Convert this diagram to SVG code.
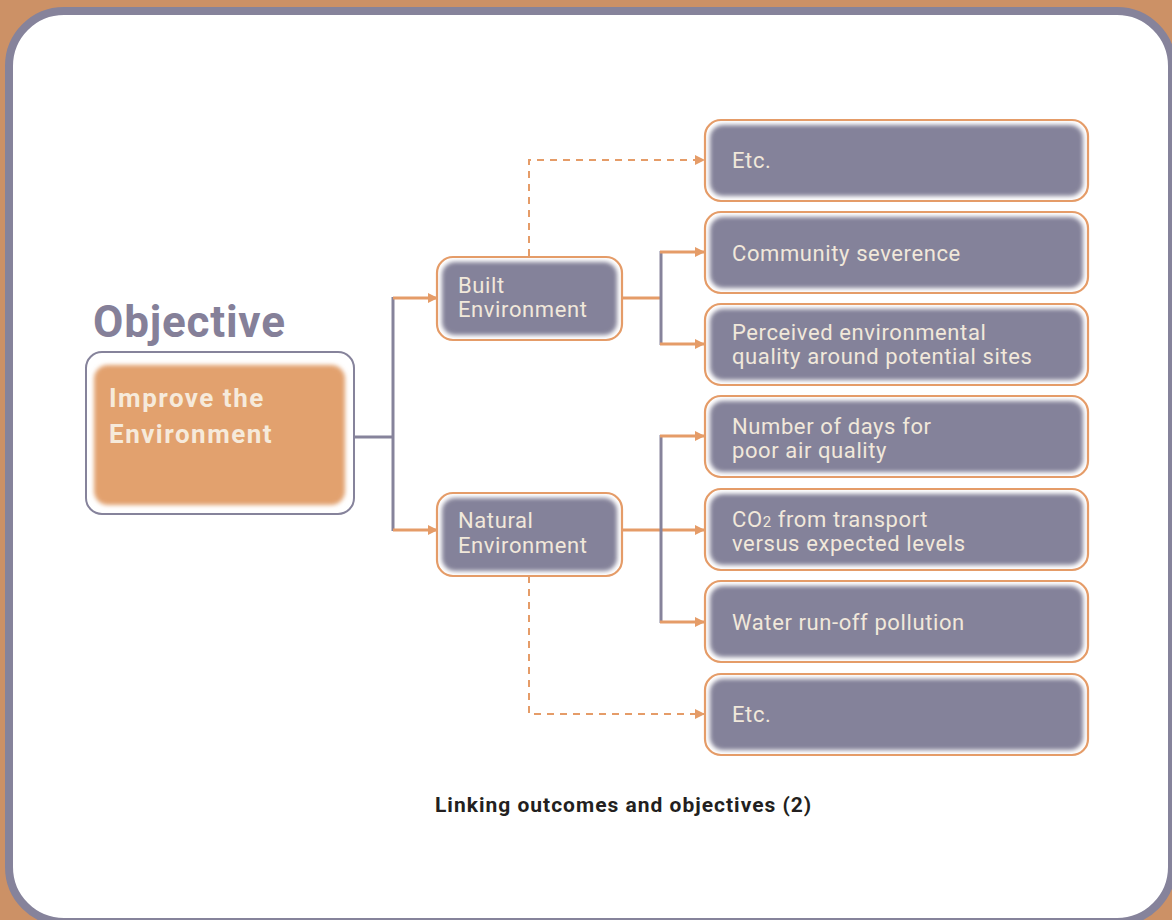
<svg xmlns="http://www.w3.org/2000/svg" width="1172" height="920" viewBox="0 0 1172 920">
  <defs>
    <style>
      .frame { fill: #ffffff; stroke: #86839b; stroke-width: 8; }
      .objOuter { fill: #ffffff; stroke: #86839b; stroke-width: 2; }
      .nodeOuter { fill: #ffffff; stroke: #e59c68; stroke-width: 2.2; }
      .nodeFill { fill: #84829a; filter: url(#soft); }
      .objFill { fill: #e2a16e; filter: url(#soft); }
      .lbl { font-family: Roboto, "Liberation Sans", sans-serif; font-size: 22px; letter-spacing: 0.6px; fill: #f1e8da; }
      .objLbl { font-family: Roboto, "Liberation Sans", sans-serif; font-size: 26px; font-weight: bold; letter-spacing: 1.5px; fill: #f6eadb; }
      .title { font-family: Roboto, "Liberation Sans", sans-serif; font-size: 44px; font-weight: bold; letter-spacing: 0.8px; fill: #858099; }
      .caption { font-family: Roboto, "Liberation Sans", sans-serif; font-size: 21px; font-weight: bold; letter-spacing: 1px; fill: #231f20; }
      .sub { font-size: 15px; }
      .lnP { fill: none; stroke: #86839b; stroke-width: 3; }
      .lnO { fill: none; stroke: #e59c68; stroke-width: 3; }
      .lnD { fill: none; stroke: #e59c68; stroke-width: 2; stroke-dasharray: 7 6; }
    </style>
    <filter id="soft" x="-10%" y="-20%" width="120%" height="140%">
      <feGaussianBlur stdDeviation="2.2"/>
    </filter>
    <marker id="arr" viewBox="0 0 10 10" refX="10" refY="5" markerWidth="10" markerHeight="10" markerUnits="userSpaceOnUse" orient="auto">
      <path d="M0,0 L10,5 L0,10 z" fill="#e59c68"/>
    </marker>
  </defs>

  <!-- background and frame -->
  <rect x="0" y="0" width="1172" height="920" fill="#cc9166"/>
  <rect class="frame" x="9" y="11" width="1163" height="911" rx="55" ry="55"/>

  <!-- heading -->
  <text class="title" x="93" y="337">Objective</text>

  <!-- connectors -->
  <g id="connectors">
    <path class="lnP" d="M354,437 H393"/>
    <path class="lnP" d="M393,297 V531"/>
    <path class="lnO" d="M393,298 H438" marker-end="url(#arr)"/>
    <path class="lnO" d="M393,530 H438" marker-end="url(#arr)"/>

    <path class="lnD" d="M529,256 V160 H705" marker-end="url(#arr)"/>
    <path class="lnO" d="M622,298 H661"/>
    <path class="lnP" d="M661,251 V345"/>
    <path class="lnO" d="M660,252 H705" marker-end="url(#arr)"/>
    <path class="lnO" d="M660,344 H705" marker-end="url(#arr)"/>

    <path class="lnO" d="M622,530 H705" marker-end="url(#arr)"/>
    <path class="lnP" d="M661,435 V623"/>
    <path class="lnO" d="M660,436 H705" marker-end="url(#arr)"/>
    <path class="lnO" d="M660,622 H705" marker-end="url(#arr)"/>
    <path class="lnD" d="M529,576 V714 H705" marker-end="url(#arr)"/>
  </g>

  <!-- objective node -->
  <g id="objective">
    <rect class="objOuter" x="86" y="352" width="268" height="162" rx="16"/>
    <rect class="objFill" x="94" y="365" width="251" height="140" rx="14"/>
    <text class="objLbl" x="109" y="407">Improve the</text>
    <text class="objLbl" x="109" y="443">Environment</text>
  </g>

  <!-- second level -->
  <g id="built">
    <rect class="nodeOuter" x="437" y="257" width="185" height="83" rx="16"/>
    <rect class="nodeFill" x="442" y="262" width="175" height="73" rx="13"/>
    <text class="lbl" x="458" y="293">Built</text>
    <text class="lbl" x="458" y="317">Environment</text>
  </g>
  <g id="natural">
    <rect class="nodeOuter" x="437" y="493" width="185" height="83" rx="16"/>
    <rect class="nodeFill" x="442" y="498" width="175" height="73" rx="13"/>
    <text class="lbl" x="458" y="528">Natural</text>
    <text class="lbl" x="458" y="553">Environment</text>
  </g>

  <!-- outcomes -->
  <g id="etc-built">
    <rect class="nodeOuter" x="705" y="120" width="383" height="81" rx="16"/>
    <rect class="nodeFill" x="710" y="125" width="373" height="71" rx="13"/>
    <text class="lbl" x="732" y="168">Etc.</text>
  </g>
  <g id="community">
    <rect class="nodeOuter" x="705" y="212" width="383" height="81" rx="16"/>
    <rect class="nodeFill" x="710" y="217" width="373" height="71" rx="13"/>
    <text class="lbl" x="732" y="261">Community severence</text>
  </g>
  <g id="perceived">
    <rect class="nodeOuter" x="705" y="304" width="383" height="81" rx="16"/>
    <rect class="nodeFill" x="710" y="309" width="373" height="71" rx="13"/>
    <text class="lbl" x="732" y="340">Perceived environmental</text>
    <text class="lbl" x="732" y="364">quality around potential sites</text>
  </g>
  <g id="air">
    <rect class="nodeOuter" x="705" y="396" width="383" height="81" rx="16"/>
    <rect class="nodeFill" x="710" y="401" width="373" height="71" rx="13"/>
    <text class="lbl" x="732" y="434">Number of days for</text>
    <text class="lbl" x="732" y="458">poor air quality</text>
  </g>
  <g id="co2">
    <rect class="nodeOuter" x="705" y="489" width="383" height="81" rx="16"/>
    <rect class="nodeFill" x="710" y="494" width="373" height="71" rx="13"/>
    <text class="lbl" x="732" y="527">CO<tspan class="sub">2</tspan> from transport</text>
    <text class="lbl" x="732" y="551">versus expected levels</text>
  </g>
  <g id="water">
    <rect class="nodeOuter" x="705" y="581" width="383" height="81" rx="16"/>
    <rect class="nodeFill" x="710" y="586" width="373" height="71" rx="13"/>
    <text class="lbl" x="732" y="630">Water run-off pollution</text>
  </g>
  <g id="etc-natural">
    <rect class="nodeOuter" x="705" y="674" width="383" height="81" rx="16"/>
    <rect class="nodeFill" x="710" y="679" width="373" height="71" rx="13"/>
    <text class="lbl" x="732" y="722">Etc.</text>
  </g>

  <text class="caption" x="435" y="812">Linking outcomes and objectives (2)</text>
</svg>
